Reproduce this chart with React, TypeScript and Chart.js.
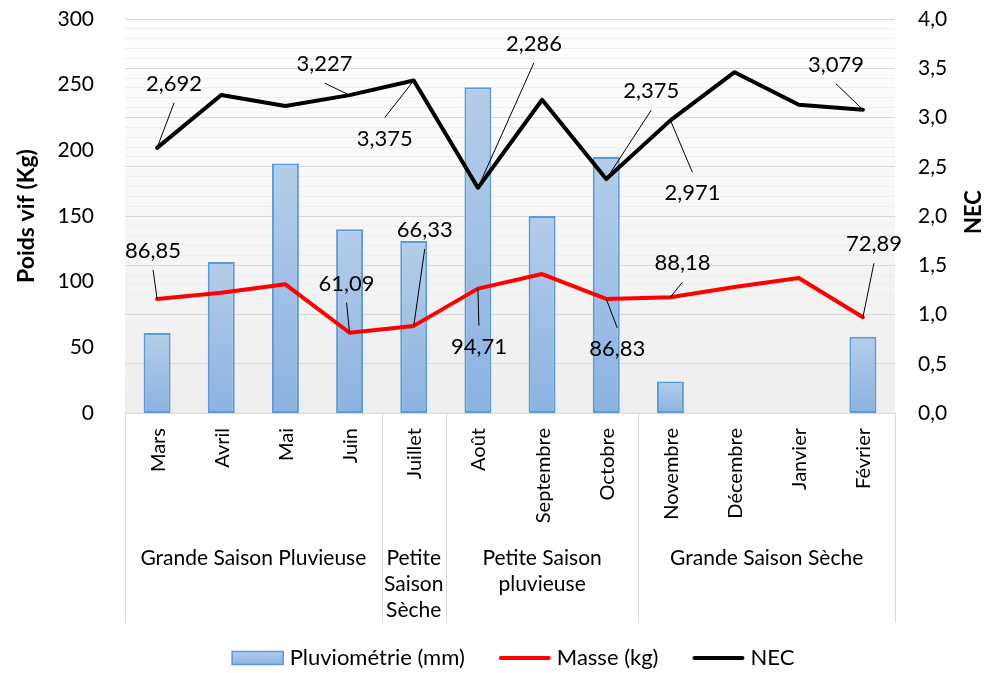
import React, { useEffect, useRef } from "react";
import { Chart, registerables } from "chart.js";

Chart.register(...registerables);

// ---------- data ----------
const months = ["Mars", "Avril", "Mai", "Juin", "Juillet", "Août", "Septembre", "Octobre", "Novembre", "Décembre", "Janvier", "Février"];
const pluviometrie = [61, 115, 190, 140, 131, 248, 150, 195, 24, 0, 0, 58];
const masse = [86.85, 91.5, 98, 61.09, 66.33, 94.71, 105.8, 86.83, 88.18, 96, 102.8, 72.89];
const nec = [2.692, 3.228, 3.117, 3.227, 3.375, 2.286, 3.18, 2.375, 2.971, 3.46, 3.13, 3.079];
const seasonNames = [["Grande Saison Pluvieuse"], ["Petite", "Saison", "Sèche"], ["Petite Saison", "pluvieuse"], ["Grande Saison Sèche"]];
const seasonSpans = [[0, 3], [4, 4], [5, 7], [8, 11]];
const labelledPoints = [0, 3, 4, 5, 7, 8, 11];
const leftAxis = { min: 0, max: 300, step: 50 };
const rightAxis = { min: 0, max: 4, step: 0.5, minorStep: 0.1 };
const seriesNames = ["Pluviométrie (mm)", "Masse (kg)", "NEC"];
const axisTitles = ["Poids vif (Kg)", "NEC"];

// ---------- style ----------
const FONT = "Lato, 'Open Sans', sans-serif";
const necLabelOffsets: Record<number, [number, number]> = {
  0: [17, -65], 3: [-25, -32], 4: [-29, 57], 5: [56, -145], 7: [45, -89], 8: [22, 72], 11: [-27, -46],
};
const masseLabelOffsets: Record<number, [number, number]> = {
  0: [-4, -49], 3: [-3, -50], 4: [11, -97], 5: [1, 57], 7: [11, 49], 8: [12, -35], 11: [11, -74],
};

const fmt = (v: number, d: number) => v.toFixed(d).replace(".", ",");

function barGradient(ctx: CanvasRenderingContext2D, top: number, bottom: number) {
  const g = ctx.createLinearGradient(0, top, 0, bottom);
  g.addColorStop(0, "#b5cdea");
  g.addColorStop(1, "#8cb2e1");
  return g;
}

const decorPlugin = {
  id: "decor",
  beforeDraw(chart: any) {
    const { ctx, chartArea: a } = chart;
    ctx.save();
    ctx.fillStyle = "#ffffff";
    ctx.fillRect(0, 0, chart.width, chart.height);
    const g = ctx.createLinearGradient(0, a.top, 0, a.bottom);
    g.addColorStop(0, "#ffffff");
    g.addColorStop(1, "#eeeeee");
    ctx.fillStyle = g;
    ctx.fillRect(a.left, a.top, a.right - a.left, a.bottom - a.top);
    ctx.restore();
  },
  afterDatasetsDraw(chart: any) {
    const { ctx } = chart;
    ctx.save();
    ctx.font = `22px ${FONT}`;
    ctx.fillStyle = "#000";
    ctx.strokeStyle = "#000";
    ctx.lineWidth = 1;
    ctx.textAlign = "center";
    ctx.textBaseline = "middle";
    const sets: [number, Record<number, [number, number]>, number][] = [
      [1, masseLabelOffsets, 2],
      [2, necLabelOffsets, 3],
    ];
    for (const [di, offs, dec] of sets) {
      const meta = chart.getDatasetMeta(di);
      const values = chart.data.datasets[di].data as number[];
      for (const i of labelledPoints) {
        const p = meta.data[i];
        const off = offs[i];
        if (!p || !off) continue;
        const cx = p.x + off[0];
        const cy = p.y + off[1];
        const sy = off[1] < 0 ? cy + 20 : cy - 20;
        ctx.beginPath();
        ctx.moveTo(cx, sy);
        ctx.lineTo(p.x, p.y);
        ctx.stroke();
        ctx.fillText(fmt(values[i], dec), cx, cy + 1);
      }
    }
    ctx.restore();
  },
  afterDraw(chart: any) {
    const { ctx, chartArea: a } = chart;
    const xs = chart.scales.x;
    ctx.save();
    // category frame
    ctx.strokeStyle = "#d9d9d9";
    ctx.lineWidth = 1;
    const boxBottom = 622;
    ctx.beginPath();
    ctx.moveTo(a.left, a.bottom + 0.5);
    ctx.lineTo(a.right, a.bottom + 0.5);
    const step = xs.getPixelForValue(1) - xs.getPixelForValue(0);
    const bounds = [seasonSpans[0][0], ...seasonSpans.map((s) => s[1] + 1)];
    for (const b of bounds) {
      const x = Math.round(xs.getPixelForValue(b) - step / 2) + 0.5;
      ctx.moveTo(x, a.bottom);
      ctx.lineTo(x, boxBottom);
    }
    ctx.stroke();

    // month labels
    ctx.fillStyle = "#000";
    ctx.font = `20px ${FONT}`;
    ctx.textAlign = "right";
    ctx.textBaseline = "middle";
    months.forEach((m, i) => {
      const x = xs.getPixelForValue(i);
      ctx.save();
      ctx.translate(x + 1, a.bottom + 15);
      ctx.rotate(-Math.PI / 2);
      ctx.fillText(m, 0, 0);
      ctx.restore();
    });

    // season labels
    ctx.font = `21px ${FONT}`;
    ctx.textAlign = "center";
    seasonSpans.forEach((s, k) => {
      const cx = (xs.getPixelForValue(s[0]) + xs.getPixelForValue(s[1])) / 2;
      seasonNames[k].forEach((line, li) => {
        ctx.fillText(line, cx, 558 + li * 26);
      });
    });

    // axis titles
    ctx.font = `bold 23px ${FONT}`;
    ctx.save();
    ctx.translate(27, 216);
    ctx.rotate(-Math.PI / 2);
    ctx.fillText(axisTitles[0], 0, 0);
    ctx.restore();
    ctx.font = `bold 22px ${FONT}`;
    ctx.save();
    ctx.translate(974, 212);
    ctx.rotate(-Math.PI / 2);
    ctx.fillText(axisTitles[1], 0, 0);
    ctx.restore();

    // legend
    ctx.font = `22px ${FONT}`;
    ctx.textAlign = "left";
    const sw = 52, gap = 6, between = 34;
    const ly = 658;
    const widths = seriesNames.map((t) => sw + gap + ctx.measureText(t).width);
    const total = widths.reduce((s, w) => s + w, 0) + between * (widths.length - 1);
    let x = 513 - total / 2;
    seriesNames.forEach((t, k) => {
      if (k === 0) {
        ctx.fillStyle = barGradient(ctx, ly - 7, ly + 7);
        ctx.fillRect(x, ly - 7, sw, 14);
        ctx.strokeStyle = "#5b9bd5";
        ctx.lineWidth = 1.5;
        ctx.strokeRect(x + 0.5, ly - 6.5, sw - 1, 13);
      } else {
        ctx.strokeStyle = k === 1 ? "#ff0000" : "#000000";
        ctx.lineWidth = 4;
        ctx.lineCap = "round";
        ctx.beginPath();
        ctx.moveTo(x + 2, ly);
        ctx.lineTo(x + sw - 2, ly);
        ctx.stroke();
      }
      ctx.fillStyle = "#000";
      ctx.fillText(t, x + sw + gap, ly);
      x += widths[k] + between;
    });
    ctx.restore();
  },
};

export default function App() {
  const ref = useRef<HTMLCanvasElement | null>(null);

  useEffect(() => {
    if (!ref.current) return;
    const fitV = (w: number) => (s: any) => {
      s.width = w;
      s.paddingTop = 10;
      s.paddingBottom = 10;
    };
    const chart = new Chart(ref.current, {
      type: "bar",
      data: {
        labels: months,
        datasets: [
          {
            type: "bar",
            label: seriesNames[0],
            data: pluviometrie,
            yAxisID: "y",
            order: 3,
            backgroundColor: (c: any) => {
              const ys = c.chart.scales?.y;
              if (!ys || c.type !== "data") return "#a3c0e6";
              const top = ys.getPixelForValue(c.raw);
              const bot = ys.getPixelForValue(0);
              if (!isFinite(top) || !isFinite(bot) || top === bot) return "#a3c0e6";
              return barGradient(c.chart.ctx, top, bot);
            },
            borderColor: "#5b9bd5",
            borderWidth: 2,
            borderSkipped: false,
            barPercentage: 0.42,
            categoryPercentage: 1,
          },
          {
            type: "line",
            label: seriesNames[1],
            data: masse,
            yAxisID: "y",
            order: 2,
            borderColor: "#ff0000",
            borderWidth: 4,
            pointRadius: 0,
            tension: 0,
            borderJoinStyle: "round",
            borderCapStyle: "round",
            fill: false,
          },
          {
            type: "line",
            label: seriesNames[2],
            data: nec,
            yAxisID: "y1",
            order: 1,
            borderColor: "#000000",
            borderWidth: 4,
            pointRadius: 0,
            tension: 0,
            borderJoinStyle: "round",
            borderCapStyle: "round",
            fill: false,
          },
        ] as any,
      },
      options: {
        responsive: false,
        animation: false,
        layout: { padding: { top: 19, bottom: 260, left: 0, right: 0 } },
        plugins: { legend: { display: false }, tooltip: { enabled: false } },
        scales: {
          x: { display: false, offset: true, grid: { display: false } },
          y: {
            position: "left",
            min: leftAxis.min,
            max: leftAxis.max,
            ticks: { stepSize: leftAxis.step, color: "#000", font: { family: FONT, size: 21 }, padding: 23 },
            grid: { display: false },
            border: { display: false },
            afterFit: fitV(125),
          },
          y1: {
            position: "right",
            min: rightAxis.min,
            max: rightAxis.max,
            ticks: {
              stepSize: rightAxis.minorStep,
              autoSkip: false,
              color: "#000",
              font: { family: FONT, size: 21 },
              padding: 23,
              callback: (v: any) => (Math.round(Number(v) * 10) % Math.round(rightAxis.step * 10) === 0 ? fmt(Number(v), 1) : ""),
            },
            grid: {
              drawTicks: false,
              lineWidth: 1,
              color: (c: any) => (Math.round(c.tick.value * 10) % Math.round(rightAxis.step * 10) === 0 ? "#d9d9d9" : "#eeeeee"),
            },
            border: { display: false },
            afterFit: fitV(92),
          },
        },
      } as any,
      plugins: [decorPlugin],
    });
    return () => chart.destroy();
  }, []);

  return (
    <div style={{ position: "fixed", left: 0, top: 0, width: 987, height: 673 }}>
      <canvas ref={ref} width={987} height={673} style={{ width: 987, height: 673 }} />
    </div>
  );
}
